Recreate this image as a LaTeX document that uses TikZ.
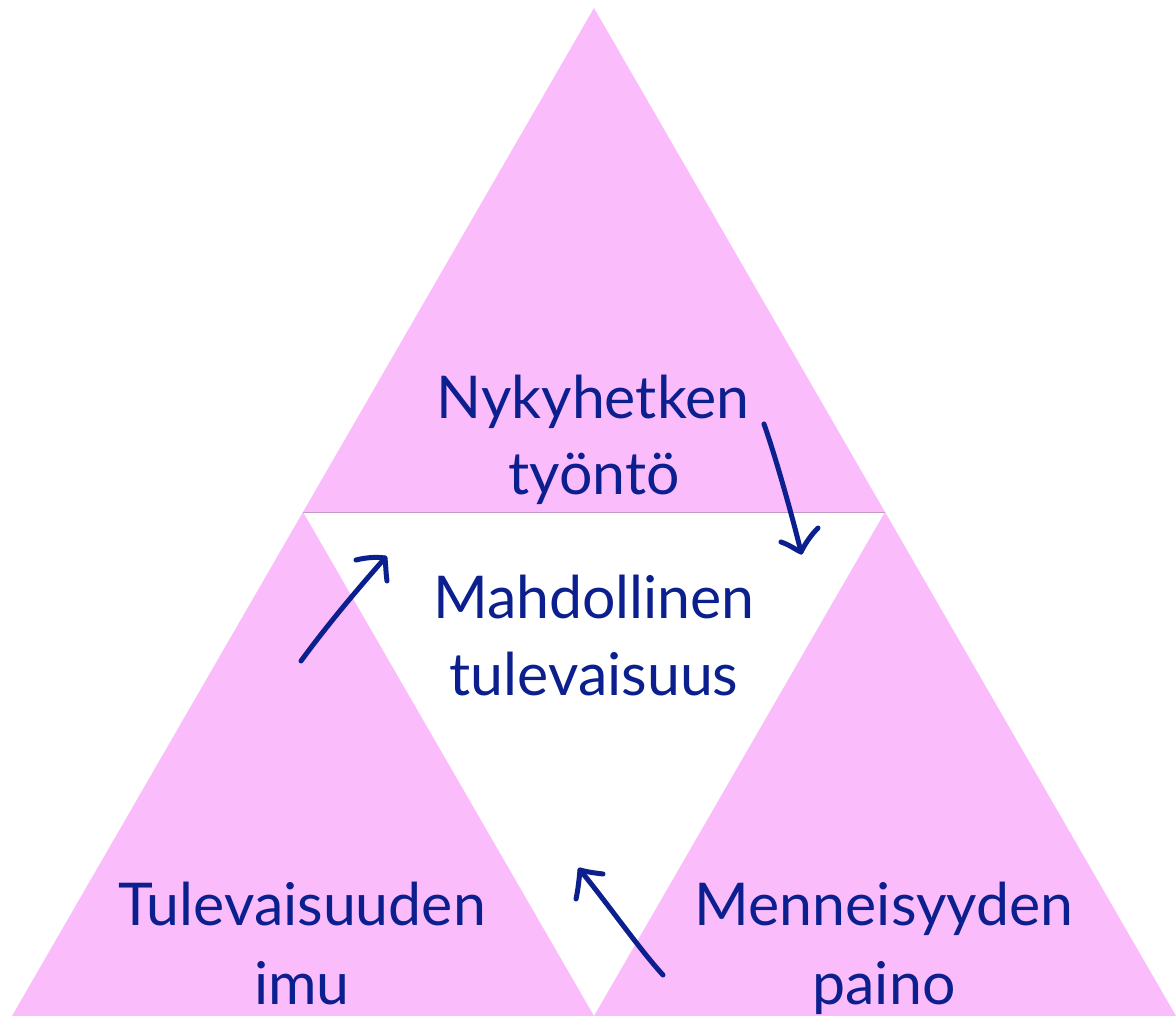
\documentclass[tikz,border=0pt]{standalone}
\usepackage{fontspec}
\setmainfont{Lato}
\definecolor{pinkfill}{HTML}{FBBCFB}
\definecolor{navy}{HTML}{0B1F8E}
\definecolor{edgeline}{HTML}{C49AC4}
\begin{document}
\begin{tikzpicture}[x=1pt,y=-1pt,
  tri/.style={fill=pinkfill,draw=none},
  lbl/.style={anchor=base,inner sep=0pt,text=navy,font=\fontsize{59}{70}\selectfont},
  handarrow/.style={draw=navy,line width=5pt,line cap=round,line join=round}]
\useasboundingbox (0,0) rectangle (1176,1016);
\fill[white] (0,0) rectangle (1176,1016);
% triangles
\coordinate (T) at (594,8);
\coordinate (ML) at (303,512);
\coordinate (MR) at (885,512);
\coordinate (BL) at (12,1016);
\coordinate (BM) at (594,1016);
\coordinate (BR) at (1176,1016);
\fill[tri] (T) -- (MR) -- (ML) -- cycle;
\fill[tri] (ML) -- (BM) -- (BL) -- cycle;
\fill[tri] (MR) -- (BR) -- (BM) -- cycle;
\draw[edgeline,line width=0.8pt] (ML) -- (MR);
% labels
\node[lbl] (n1) at (593,418) {Nykyhetken};
\node[lbl] (n2) at (594,494) {työntö};
\node[lbl] (c1) at (594,618) {Mahdollinen};
\node[lbl] (c2) at (594,695) {tulevaisuus};
\node[lbl] (l1) at (302,925) {Tulevaisuuden};
\node[lbl] (l2) at (302,1004) {imu};
\node[lbl] (r1) at (884,925) {Menneisyyden};
\node[lbl] (r2) at (884,1004) {paino};
% arrows
\coordinate (a1s) at (301,661);
\coordinate (a1e) at (385,558);
\draw[handarrow] (a1s) .. controls (325,628) and (355,592) .. (a1e);
\draw[handarrow] (356,560) .. controls (368,557) and (378,557) .. (a1e) .. controls (386,568) and (386,575) .. (387,581);
\coordinate (a2s) at (764,424);
\coordinate (a2e) at (801,552);
\draw[handarrow] (a2s) .. controls (775,455) and (792,515) .. (a2e);
\draw[handarrow] (781,542) .. controls (790,545) and (796,550) .. (a2e) .. controls (806,542) and (812,534) .. (818,528);
\coordinate (a3s) at (663,975);
\coordinate (a3e) at (580,870);
\draw[handarrow] (a3s) .. controls (640,950) and (605,900) .. (a3e);
\draw[handarrow] (603,874) .. controls (595,873) and (587,872) .. (a3e) .. controls (579,880) and (578,890) .. (576,899);
\end{tikzpicture}
\end{document}
